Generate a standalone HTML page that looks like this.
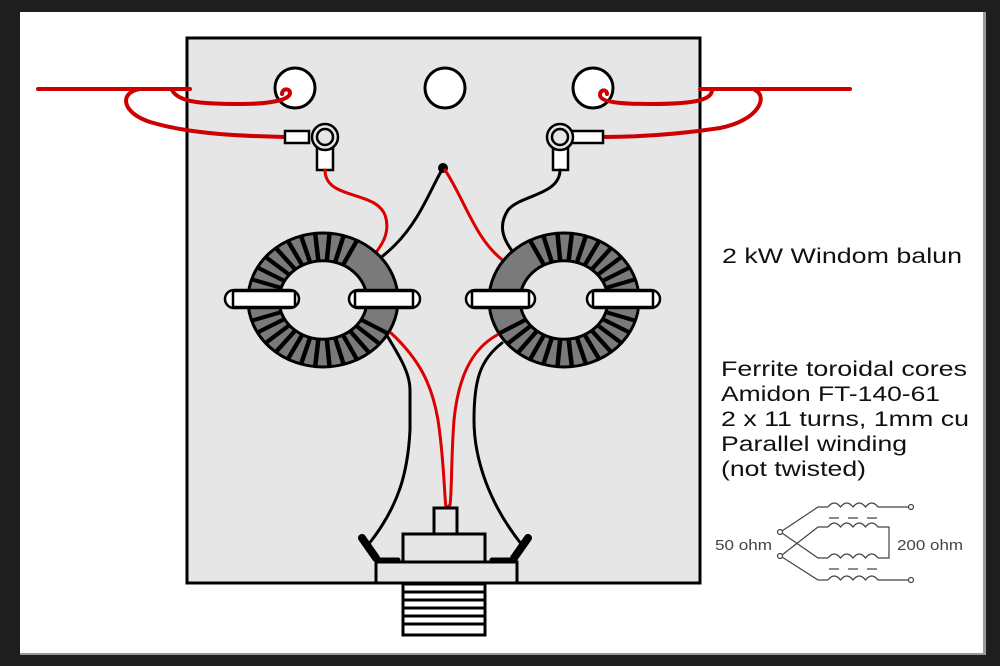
<!DOCTYPE html>
<html><head><style>
html,body{margin:0;padding:0;width:1000px;height:666px;overflow:hidden;background:#1e1e1e}
svg{position:absolute;left:0;top:0}
text{font-family:"Liberation Sans",Arial,sans-serif;fill:#111}
</style></head><body>
<svg width="1000" height="666" viewBox="0 0 1000 666">
<rect x="20" y="12" width="963" height="641" fill="#fff"/>
<rect x="983" y="12" width="3" height="643" fill="#999"/>
<rect x="20" y="653" width="966" height="2" fill="#999"/>
<rect x="187" y="38" width="513" height="545" fill="#e6e6e6" stroke="#000" stroke-width="3"/>
<g fill="#fff" stroke="#000" stroke-width="3">
<circle cx="295" cy="88" r="20"/><circle cx="445" cy="88" r="20"/><circle cx="593" cy="88" r="20"/>
</g>
<g fill="none" stroke="#cc0000" stroke-width="4" stroke-linecap="round">
<path d="M38 89 H190"/>
<path d="M140 89 C120 92 120 112 150 122 C190 134 240 136 285 137"/>
<path d="M172 90 C178 102 200 104 240 104 C270 104 290 100 290 93 C290 88 282 88 282 94"/>
<path d="M700 89 H850"/>
<path d="M755 90 C768 96 760 120 720 128 C680 134 640 137 603 137"/>
<path d="M712 90 C712 101 690 104 650 104 C620 104 600 102 600 95 C600 89 607 89 607 94"/>
</g>
<g stroke="#000" stroke-width="2.5" fill="#fff">
<rect x="285" y="131" width="24" height="12"/>
<rect x="317" y="148" width="16" height="22"/>
<circle cx="325" cy="137" r="13" fill="#e6e6e6"/>
<circle cx="325" cy="137" r="8" fill="#e6e6e6"/>
<rect x="570" y="131" width="33" height="12"/>
<rect x="553" y="148" width="15" height="22"/>
<circle cx="560" cy="137" r="13" fill="#e6e6e6"/>
<circle cx="560" cy="137" r="8" fill="#e6e6e6"/>
</g>
<circle cx="443" cy="168" r="5" fill="#000"/>
<g fill="none" stroke-width="3" stroke-linecap="round">
<path d="M325 170 C325 200 375 190 385 215 C392 235 378 250 370 260" stroke="#dd0000"/>
<path d="M443 168 C430 190 420 220 395 245 C385 255 375 262 370 265" stroke="#000"/>
<path d="M445 170 C465 200 475 240 505 262" stroke="#dd0000"/>
<path d="M560 170 C560 195 520 195 508 210 C495 230 508 245 515 255" stroke="#000"/>
</g>
<g transform="translate(323,300) scale(1,0.893)">
<circle r="59.5" fill="none" stroke="#7a7a7a" stroke-width="31"/>
<circle r="75" fill="none" stroke="#000" stroke-width="3" vector-effect="non-scaling-stroke"/>
<circle r="44" fill="#e6e6e6" stroke="#000" stroke-width="3" vector-effect="non-scaling-stroke"/>
<g stroke="#000" stroke-width="4.5" vector-effect="non-scaling-stroke">
<line x1="44" x2="75" transform="rotate(30)"/><line x1="44" x2="75" transform="rotate(41)"/><line x1="44" x2="75" transform="rotate(52)"/><line x1="44" x2="75" transform="rotate(63)"/><line x1="44" x2="75" transform="rotate(74)"/><line x1="44" x2="75" transform="rotate(85)"/><line x1="44" x2="75" transform="rotate(96)"/><line x1="44" x2="75" transform="rotate(107)"/><line x1="44" x2="75" transform="rotate(118)"/><line x1="44" x2="75" transform="rotate(129)"/><line x1="44" x2="75" transform="rotate(140)"/><line x1="44" x2="75" transform="rotate(151)"/><line x1="44" x2="75" transform="rotate(162)"/><line x1="44" x2="75" transform="rotate(198)"/><line x1="44" x2="75" transform="rotate(209)"/><line x1="44" x2="75" transform="rotate(220)"/><line x1="44" x2="75" transform="rotate(231)"/><line x1="44" x2="75" transform="rotate(242)"/><line x1="44" x2="75" transform="rotate(253)"/><line x1="44" x2="75" transform="rotate(264)"/><line x1="44" x2="75" transform="rotate(275)"/><line x1="44" x2="75" transform="rotate(286)"/><line x1="44" x2="75" transform="rotate(297)"/>
</g></g>
<g transform="translate(564,300) scale(1,0.893)">
<circle r="59.5" fill="none" stroke="#7a7a7a" stroke-width="31"/>
<circle r="75" fill="none" stroke="#000" stroke-width="3" vector-effect="non-scaling-stroke"/>
<circle r="44" fill="#e6e6e6" stroke="#000" stroke-width="3" vector-effect="non-scaling-stroke"/>
<g stroke="#000" stroke-width="4.5" vector-effect="non-scaling-stroke">
<line x1="44" x2="75" transform="rotate(-117)"/><line x1="44" x2="75" transform="rotate(-106)"/><line x1="44" x2="75" transform="rotate(-95)"/><line x1="44" x2="75" transform="rotate(-84)"/><line x1="44" x2="75" transform="rotate(-73)"/><line x1="44" x2="75" transform="rotate(-62)"/><line x1="44" x2="75" transform="rotate(-51)"/><line x1="44" x2="75" transform="rotate(-40)"/><line x1="44" x2="75" transform="rotate(-29)"/><line x1="44" x2="75" transform="rotate(-18)"/><line x1="44" x2="75" transform="rotate(18)"/><line x1="44" x2="75" transform="rotate(29)"/><line x1="44" x2="75" transform="rotate(40)"/><line x1="44" x2="75" transform="rotate(51)"/><line x1="44" x2="75" transform="rotate(62)"/><line x1="44" x2="75" transform="rotate(73)"/><line x1="44" x2="75" transform="rotate(84)"/><line x1="44" x2="75" transform="rotate(95)"/><line x1="44" x2="75" transform="rotate(106)"/><line x1="44" x2="75" transform="rotate(117)"/><line x1="44" x2="75" transform="rotate(128)"/><line x1="44" x2="75" transform="rotate(139)"/><line x1="44" x2="75" transform="rotate(150)"/>
</g></g>
<g fill="#fff" stroke="#000" stroke-width="2.5">
<rect x="225" y="290" width="74" height="18" rx="9"/><rect x="233" y="291" width="62" height="16" rx="1"/>
<rect x="349" y="290" width="71" height="18" rx="9"/><rect x="355" y="291" width="58" height="16" rx="1"/>
<rect x="466" y="290" width="69" height="18" rx="9"/><rect x="472" y="291" width="57" height="16" rx="1"/>
<rect x="587" y="290" width="73" height="18" rx="9"/><rect x="593" y="291" width="60" height="16" rx="1"/>
</g>
<g fill="none" stroke-width="3" stroke-linecap="round">
<path d="M385 332 C395 350 410 370 410 390 L410 430 C408 470 400 505 368 545" stroke="#000"/>
<path d="M391 333 C420 360 432 385 438 420 C444 460 444 490 446 508" stroke="#dd0000"/>
<path d="M497 335 C470 350 458 380 454 420 C451 460 452 490 450 505 L446 508" stroke="#dd0000"/>
<path d="M502 343 C480 360 474 380 474 420 C474 460 490 505 522 545" stroke="#000"/>
</g>
<g stroke="#000" stroke-width="3" fill="#e6e6e6">
<rect x="434" y="508" width="23" height="26"/>
<rect x="403" y="534" width="82" height="28"/>
<rect x="376" y="562" width="141" height="21"/>
<rect x="403" y="584" width="82" height="51" fill="#fff"/>
</g>
<g stroke="#000" stroke-width="3">
<line x1="403" y1="592" x2="485" y2="592"/><line x1="403" y1="600" x2="485" y2="600"/><line x1="403" y1="608" x2="485" y2="608"/><line x1="403" y1="616" x2="485" y2="616"/><line x1="403" y1="624" x2="485" y2="624"/>
</g>
<g stroke="#000" stroke-linecap="round">
<line x1="362" y1="538" x2="376" y2="558" stroke-width="8"/>
<line x1="378" y1="560" x2="398" y2="560" stroke-width="5"/>
<line x1="528" y1="538" x2="514" y2="558" stroke-width="8"/>
<line x1="492" y1="560" x2="512" y2="560" stroke-width="5"/>
</g>
<text x="722" y="263" font-size="21" textLength="240" lengthAdjust="spacingAndGlyphs">2 kW Windom balun</text>
<text x="721" y="376" font-size="21" textLength="246" lengthAdjust="spacingAndGlyphs">Ferrite toroidal cores</text>
<text x="721" y="401" font-size="21" textLength="219" lengthAdjust="spacingAndGlyphs">Amidon FT-140-61</text>
<text x="721" y="426" font-size="21" textLength="248" lengthAdjust="spacingAndGlyphs">2 x 11 turns, 1mm cu</text>
<text x="721" y="451" font-size="21" textLength="186" lengthAdjust="spacingAndGlyphs">Parallel winding</text>
<text x="721" y="476" font-size="21" textLength="145" lengthAdjust="spacingAndGlyphs">(not twisted)</text>
<g fill="none" stroke="#444" stroke-width="1.2">
<circle cx="780" cy="532" r="2.5"/><circle cx="780" cy="556" r="2.5"/>
<circle cx="911" cy="507" r="2.5"/><circle cx="911" cy="580" r="2.5"/>
<path d="M782 531 L818 507 H828"/>
<path d="M782 533 L818 558 H828"/>
<path d="M782 555 L818 527 H828"/>
<path d="M782 557 L818 580 H828"/>
<path d="M828 507 q6.25 -8 12.5 0 q6.25 -8 12.5 0 q6.25 -8 12.5 0 q6.25 -8 12.5 0 H908"/>
<path d="M828 527 q6.25 -8 12.5 0 q6.25 -8 12.5 0 q6.25 -8 12.5 0 q6.25 -8 12.5 0 H889 V558 H878"/>
<path d="M828 558 q6.25 -8 12.5 0 q6.25 -8 12.5 0 q6.25 -8 12.5 0 q6.25 -8 12.5 0"/>
<path d="M828 580 q6.25 -8 12.5 0 q6.25 -8 12.5 0 q6.25 -8 12.5 0 q6.25 -8 12.5 0 H908"/>
<path d="M829 518 h10 M848 518 h10 M867 518 h10 M829 569 h10 M848 569 h10 M867 569 h10"/>
</g>
<text x="715" y="550" font-size="15" textLength="57" lengthAdjust="spacingAndGlyphs" style="fill:#444">50 ohm</text>
<text x="897" y="550" font-size="15" textLength="66" lengthAdjust="spacingAndGlyphs" style="fill:#444">200 ohm</text>
</svg>
</body></html>
